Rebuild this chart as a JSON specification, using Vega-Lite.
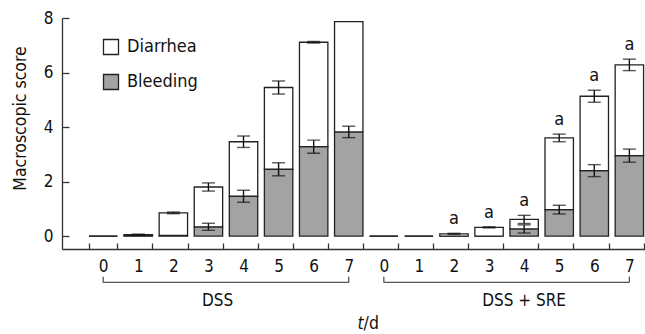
{
  "$schema": "https://vega.github.io/schema/vega-lite/v6.json",
  "autosize": {"type": "none"},
  "padding": {"left": 62, "top": 18, "right": 0, "bottom": 85},
  "width": 583,
  "height": 231,
  "config": {
    "font": "DejaVu Sans Condensed",
    "view": {"stroke": null},
    "axis": {"labelColor": "#111", "titleColor": "#111", "domainColor": "#333", "tickColor": "#333", "domainWidth": 1.3, "tickWidth": 1.3, "grid": false}
  },
  "datasets": {
    "bars": [
      {"key": "DSS-0", "series": "Bleeding", "value": 0, "err": 0, "sig": ""},
      {"key": "DSS-0", "series": "Diarrhea", "value": 0, "err": 0, "sig": ""},
      {"key": "DSS-1", "series": "Bleeding", "value": 0.02, "err": 0, "sig": ""},
      {"key": "DSS-1", "series": "Diarrhea", "value": 0.03, "err": 0.02, "sig": ""},
      {"key": "DSS-2", "series": "Bleeding", "value": 0.02, "err": 0, "sig": ""},
      {"key": "DSS-2", "series": "Diarrhea", "value": 0.83, "err": 0.03, "sig": ""},
      {"key": "DSS-3", "series": "Bleeding", "value": 0.34, "err": 0.13, "sig": ""},
      {"key": "DSS-3", "series": "Diarrhea", "value": 1.46, "err": 0.15, "sig": ""},
      {"key": "DSS-4", "series": "Bleeding", "value": 1.46, "err": 0.22, "sig": ""},
      {"key": "DSS-4", "series": "Diarrhea", "value": 2.0, "err": 0.21, "sig": ""},
      {"key": "DSS-5", "series": "Bleeding", "value": 2.45, "err": 0.24, "sig": ""},
      {"key": "DSS-5", "series": "Diarrhea", "value": 3.0, "err": 0.24, "sig": ""},
      {"key": "DSS-6", "series": "Bleeding", "value": 3.28, "err": 0.24, "sig": ""},
      {"key": "DSS-6", "series": "Diarrhea", "value": 3.83, "err": 0.03, "sig": ""},
      {"key": "DSS-7", "series": "Bleeding", "value": 3.82, "err": 0.21, "sig": ""},
      {"key": "DSS-7", "series": "Diarrhea", "value": 4.05, "err": 0, "sig": ""},
      {"key": "SRE-0", "series": "Bleeding", "value": 0, "err": 0, "sig": ""},
      {"key": "SRE-0", "series": "Diarrhea", "value": 0, "err": 0, "sig": ""},
      {"key": "SRE-1", "series": "Bleeding", "value": 0, "err": 0, "sig": ""},
      {"key": "SRE-1", "series": "Diarrhea", "value": 0, "err": 0, "sig": ""},
      {"key": "SRE-2", "series": "Bleeding", "value": 0, "err": 0, "sig": ""},
      {"key": "SRE-2", "series": "Diarrhea", "value": 0.08, "err": 0.02, "sig": "a"},
      {"key": "SRE-3", "series": "Bleeding", "value": 0, "err": 0, "sig": ""},
      {"key": "SRE-3", "series": "Diarrhea", "value": 0.32, "err": 0.02, "sig": "a"},
      {"key": "SRE-4", "series": "Bleeding", "value": 0.26, "err": 0.15, "sig": ""},
      {"key": "SRE-4", "series": "Diarrhea", "value": 0.35, "err": 0.15, "sig": "a"},
      {"key": "SRE-5", "series": "Bleeding", "value": 0.97, "err": 0.16, "sig": ""},
      {"key": "SRE-5", "series": "Diarrhea", "value": 2.63, "err": 0.14, "sig": "a"},
      {"key": "SRE-6", "series": "Bleeding", "value": 2.4, "err": 0.22, "sig": ""},
      {"key": "SRE-6", "series": "Diarrhea", "value": 2.73, "err": 0.22, "sig": "a"},
      {"key": "SRE-7", "series": "Bleeding", "value": 2.95, "err": 0.24, "sig": ""},
      {"key": "SRE-7", "series": "Diarrhea", "value": 3.33, "err": 0.21, "sig": "a"}
    ],
    "groups": [
      {"group": "DSS", "start": "DSS-0", "end": "DSS-7"},
      {"group": "DSS + SRE", "start": "SRE-0", "end": "SRE-7"}
    ],
    "xtitle": [
      {"part": "t", "at": "SRE-0"},
      {"part": "/d", "at": "SRE-0"}
    ]
  },
  "layer": [
    {
      "data": {"name": "bars"},
      "transform": [
        {"stack": "value", "groupby": ["key"], "sort": [{"field": "series", "order": "ascending"}], "as": ["v0", "v1"]}
      ],
      "mark": {"type": "bar", "stroke": "#222", "strokeWidth": 1.3},
      "encoding": {
        "x": {
          "field": "key", "type": "nominal",
          "scale": {"paddingInner": 0.19, "paddingOuter": 0.405, "align": 0.95},
          "axis": {"title": null, "labelExpr": "split(datum.value, '-')[1]", "labelAngle": 0, "tickBand": "extent", "tickSize": -6, "labelFontSize": 17, "labelPadding": 15}
        },
        "y": {
          "field": "v1", "type": "quantitative",
          "scale": {"domain": [-0.475, 8], "nice": false, "zero": false},
          "axis": {"values": [0, 1, 2, 3, 4, 5, 6, 7, 8], "labelExpr": "datum.value % 2 == 0 ? datum.label : ''", "tickSize": -7, "labelFontSize": 17, "labelPadding": 16, "title": "Macroscopic score", "titleFontSize": 17.5, "titleFontWeight": "normal", "titleX": -42, "titleY": 100, "titleBaseline": "middle"}
        },
        "y2": {"field": "v0"},
        "fill": {
          "field": "series", "type": "nominal",
          "scale": {"domain": ["Diarrhea", "Bleeding"], "range": ["#ffffff", "#a3a3a3"]},
          "legend": {"title": null, "orient": "none", "legendX": 40, "legendY": 20, "symbolType": "square", "symbolSize": 225, "symbolStrokeColor": "#222", "symbolStrokeWidth": 1.3, "labelFontSize": 18, "labelColor": "#111", "labelOffset": 7, "rowPadding": 13}
        }
      }
    },
    {
      "data": {"name": "bars"},
      "transform": [
        {"stack": "value", "groupby": ["key"], "sort": [{"field": "series", "order": "ascending"}], "as": ["v0", "v1"]},
        {"filter": "datum.err > 0"},
        {"calculate": "datum.v1 - datum.err", "as": "lo"},
        {"calculate": "datum.v1 + datum.err", "as": "hi"}
      ],
      "layer": [
        {"mark": {"type": "rule", "color": "#111", "strokeWidth": 1.4}, "encoding": {"x": {"field": "key", "type": "nominal"}, "y": {"field": "lo", "type": "quantitative"}, "y2": {"field": "hi"}}},
        {"mark": {"type": "tick", "orient": "horizontal", "color": "#111", "size": 13, "thickness": 1.4}, "encoding": {"x": {"field": "key", "type": "nominal"}, "y": {"field": "lo", "type": "quantitative"}}},
        {"mark": {"type": "tick", "orient": "horizontal", "color": "#111", "size": 13, "thickness": 1.4}, "encoding": {"x": {"field": "key", "type": "nominal"}, "y": {"field": "hi", "type": "quantitative"}}},
        {"transform": [{"filter": "datum.sig == 'a'"}], "mark": {"type": "text", "fontSize": 18, "color": "#111", "baseline": "alphabetic", "dy": -9}, "encoding": {"x": {"field": "key", "type": "nominal"}, "y": {"field": "hi", "type": "quantitative"}, "text": {"field": "sig"}}}
      ]
    },
    {
      "data": {"name": "groups"},
      "layer": [
        {"mark": {"type": "rule", "color": "#555", "strokeWidth": 1.3}, "encoding": {"x": {"field": "start", "type": "nominal"}, "x2": {"field": "end"}, "y": {"datum": -1.7}}},
        {"mark": {"type": "rule", "color": "#555", "strokeWidth": 1.3}, "encoding": {"x": {"field": "start", "type": "nominal"}, "y": {"datum": -1.7}, "y2": {"datum": -1.49}}},
        {"mark": {"type": "rule", "color": "#555", "strokeWidth": 1.3}, "encoding": {"x": {"field": "end", "type": "nominal"}, "y": {"datum": -1.7}, "y2": {"datum": -1.49}}},
        {"transform": [{"filter": "datum.group == 'DSS + SRE'"}], "mark": {"type": "text", "fontSize": 17, "color": "#111", "baseline": "middle"}, "encoding": {"x": {"datum": "SRE-4", "type": "nominal"}, "y": {"datum": -2.4}, "text": {"field": "group"}}},
        {"transform": [{"filter": "datum.group == 'DSS'"}], "mark": {"type": "text", "fontSize": 17, "color": "#111", "baseline": "middle", "align": "center", "dx": -5}, "encoding": {"x": {"datum": "DSS-3", "type": "nominal", "bandPosition": 1}, "y": {"datum": -2.4}, "text": {"field": "group"}}}
      ]
    },
    {
      "data": {"name": "xtitle"},
      "layer": [
        {"transform": [{"filter": "datum.part == 't'"}], "mark": {"type": "text", "fontSize": 17.5, "color": "#111", "baseline": "middle", "align": "right", "fontStyle": "italic", "dx": -6}, "encoding": {"x": {"field": "at", "type": "nominal", "bandPosition": 0}, "y": {"datum": -3.21}, "text": {"field": "part"}}},
        {"transform": [{"filter": "datum.part == '/d'"}], "mark": {"type": "text", "fontSize": 17.5, "color": "#111", "baseline": "middle", "align": "left", "dx": -6}, "encoding": {"x": {"field": "at", "type": "nominal", "bandPosition": 0}, "y": {"datum": -3.21}, "text": {"field": "part"}}}
      ]
    }
  ]
}
